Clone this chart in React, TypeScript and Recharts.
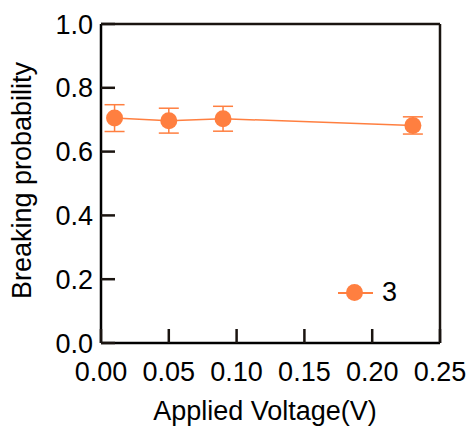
import {
  ComposedChart,
  ErrorBar,
  Line,
  XAxis,
  YAxis,
} from "recharts";

const ORANGE = "#FF7F40";
const INK = "#000";
const TICK_INK = "#1a1410";
const FRAME_INK = "#1a1410";
const FONT = "'Liberation Sans', Arial, sans-serif";
const FS = 27;

const voltages = [0.01, 0.05, 0.09, 0.23];
const probabilities = [0.705, 0.697, 0.703, 0.682];
const errors = [0.042, 0.039, 0.039, 0.027];
const seriesName = "3";

const xTicks = [0, 0.05, 0.1, 0.15, 0.2, 0.25];
const yTicks = [0, 0.2, 0.4, 0.6, 0.8, 1.0];

const data = voltages.map((x, i) => ({
  x,
  p: probabilities[i],
  err: errors[i],
}));

function XTick(props: any) {
  const { x, y, payload } = props;
  return (
    <g>
      <line x1={x} y1={y} x2={x} y2={y - 14} stroke={TICK_INK} strokeWidth={2.5} />
      <text x={x} y={y + 19} dy="0.71em" textAnchor="middle" fontSize={FS} fontFamily={FONT} fill="#000">
        {payload.value.toFixed(2)}
      </text>
    </g>
  );
}

function YTick(props: any) {
  const { x, y, payload } = props;
  return (
    <g>
      <line x1={x} y1={y} x2={x + 14} y2={y} stroke={TICK_INK} strokeWidth={2.5} />
      <text x={x - 8} y={y} dy="0.355em" textAnchor="end" fontSize={FS} fontFamily={FONT} fill="#000">
        {payload.value.toFixed(1)}
      </text>
    </g>
  );
}

const textStyle = {
  position: "absolute" as const,
  fontFamily: FONT,
  fontSize: FS,
  lineHeight: `${FS}px`,
  color: "#000",
  whiteSpace: "nowrap" as const,
};

function LegendBox() {
  return (
    <>
      <div style={{ position: "absolute", left: 338, top: 292, width: 35, height: 2, background: ORANGE }} />
      <div
        style={{
          position: "absolute",
          left: 346,
          top: 284,
          width: 17,
          height: 17,
          borderRadius: "50%",
          background: ORANGE,
        }}
      />
      <div style={{ ...textStyle, left: 382, top: 279 }}>{seriesName}</div>
    </>
  );
}

export default function App() {
  return (
    <div style={{ position: "absolute", left: 0, top: 0, width: 470, height: 428, background: "#fff" }}>
      <ComposedChart width={470} height={428} data={data} margin={{ top: 23, right: 29, bottom: 0, left: 0 }}>
        <XAxis
          type="number"
          dataKey="x"
          domain={[0, 0.25]}
          ticks={xTicks}
          height={85}
          tickSize={0}
          tickMargin={0}
          tickLine={false}
          stroke={INK}
          strokeWidth={2.5}
          tick={<XTick />}
        />
        <XAxis
          xAxisId="top"
          orientation="top"
          type="number"
          domain={[0, 0.25]}
          height={1}
          tick={false}
          tickLine={false}
          stroke={FRAME_INK}
          strokeWidth={2.5}
        />
        <YAxis
          type="number"
          domain={[0, 1]}
          ticks={yTicks}
          width={101}
          tickSize={0}
          tickMargin={0}
          tickLine={false}
          stroke={INK}
          strokeWidth={2.5}
          tick={<YTick />}
        />
        <YAxis
          yAxisId="right"
          orientation="right"
          type="number"
          domain={[0, 1]}
          width={1}
          tick={false}
          tickLine={false}
          stroke={FRAME_INK}
          strokeWidth={2.5}
        />
        <Line
          type="linear"
          dataKey="p"
          stroke={ORANGE}
          strokeWidth={1.5}
          dot={{ r: 8.5, fill: ORANGE, stroke: ORANGE, strokeWidth: 0 }}
          isAnimationActive={false}
        >
          <ErrorBar dataKey="err" direction="y" width={10} stroke={ORANGE} strokeWidth={1.5} isAnimationActive={false} />
        </Line>
      </ComposedChart>
      <div style={{ ...textStyle, left: 0, top: 398, width: 530, textAlign: "center" }}>Applied Voltage(V)</div>
      <div
        style={{
          ...textStyle,
          left: -128,
          top: 167,
          width: 300,
          height: FS,
          textAlign: "center",
          transform: "rotate(-90deg)",
        }}
      >
        Breaking probability
      </div>
      <LegendBox />
    </div>
  );
}
